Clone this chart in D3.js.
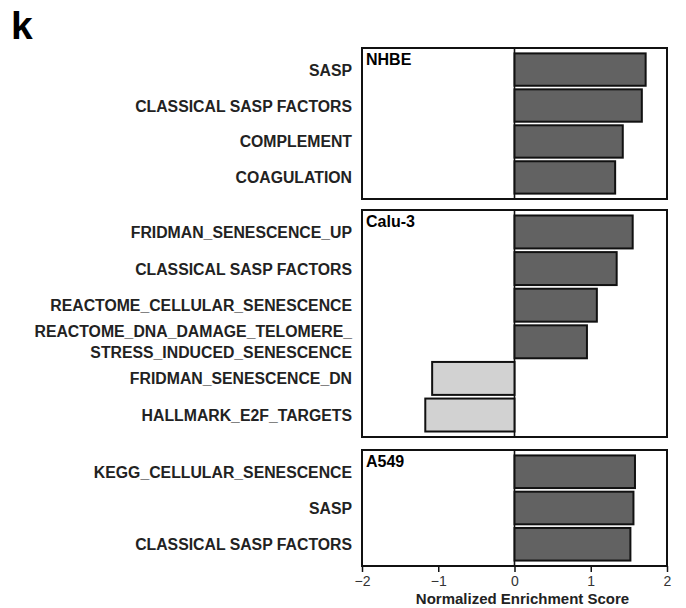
<!DOCTYPE html>
<meta charset="utf-8">
<style>
  body { margin: 0; background: #fff; }
  text { font-family: "Liberation Sans", Arial, sans-serif; }
</style>
<body>
<script src="https://cdn.jsdelivr.net/npm/d3@7"></script>
<script>

var width = 686,
    height = 608;

// cell lines, one panel each
var panels = ["NHBE", "Calu-3", "A549"];

// gene sets + NES per panel
var nhbeTerms = ["SASP", "CLASSICAL SASP FACTORS", "COMPLEMENT", "COAGULATION"];
var nhbeNES = [1.72, 1.67, 1.42, 1.32];

var caluTerms = ["FRIDMAN_SENESCENCE_UP", "CLASSICAL SASP FACTORS", "REACTOME_CELLULAR_SENESCENCE",
                 "REACTOME_DNA_DAMAGE_TELOMERE_\nSTRESS_INDUCED_SENESCENCE",
                 "FRIDMAN_SENESCENCE_DN", "HALLMARK_E2F_TARGETS"];
var caluNES = [1.55, 1.34, 1.08, 0.95, -1.08, -1.17];

var a549Terms = ["KEGG_CELLULAR_SENESCENCE", "SASP", "CLASSICAL SASP FACTORS"];
var a549NES = [1.58, 1.56, 1.52];

var xTicks = [-2, -1, 0, 1, 2];

var termsByPanel = [nhbeTerms, caluTerms, a549Terms],
    nesByPanel = [nhbeNES, caluNES, a549NES];

// panel boxes, top / bottom in px
var panelTop = [48, 210, 450],
    panelBottom = [199, 437, 566];

var left = 362, right = 667;

var x = d3.scaleLinear().domain([-2, 2]).range([left, right]);

var svg = d3.select("body").append("svg")
    .attr("width", width)
    .attr("height", height);

svg.append("text")
    .attr("x", 11)
    .attr("y", 39)
    .style("font-size", "39px")
    .style("font-weight", "bold")
    .text("k");

panels.forEach(function(name, p) {
  var terms = termsByPanel[p],
      data = terms.map(function(t, i) { return { term: t, nes: nesByPanel[p][i] }; });

  var y = d3.scaleBand()
      .domain(terms)
      .range([panelTop[p], panelBottom[p]])
      .paddingInner(0.1)
      .paddingOuter(0.15);

  var g = svg.append("g");

  g.append("rect")
      .attr("x", left)
      .attr("y", panelTop[p])
      .attr("width", right - left)
      .attr("height", panelBottom[p] - panelTop[p])
      .attr("fill", "#fff")
      .attr("stroke", "#111")
      .attr("stroke-width", 2);

  g.append("line")
      .attr("x1", x(0)).attr("x2", x(0))
      .attr("y1", panelTop[p]).attr("y2", panelBottom[p])
      .attr("stroke", "#111")
      .attr("stroke-width", 1.6);

  g.selectAll(".bar")
    .data(data)
    .enter().append("rect")
      .attr("class", "bar")
      .attr("x", function(d) { return x(Math.min(0, d.nes)); })
      .attr("y", function(d) { return y(d.term); })
      .attr("width", function(d) { return Math.abs(x(d.nes) - x(0)); })
      .attr("height", y.bandwidth())
      .attr("fill", function(d) { return d.nes > 0 ? "#626262" : "#d2d2d2"; })
      .attr("stroke", "#111")
      .attr("stroke-width", 2);

  g.append("text")
      .attr("x", left + 4)
      .attr("y", panelTop[p] + 17)
      .style("font-size", "16px")
      .style("font-weight", "bold")
      .text(name);

  // term labels: a bit taller than wide, like the original's condensed face
  var lab = g.selectAll(".lab")
    .data(data)
    .enter().append("text")
      .attr("class", "lab")
      .attr("text-anchor", "end")
      .attr("transform", function(d) {
        return "translate(352," + (y(d.term) + y.bandwidth() / 2) + ") scale(0.93,1)";
      })
      .style("font-size", "17px")
      .style("font-weight", "bold")
      .attr("fill", "#222");

  lab.each(function(d) {
    var lines = d.term.split("\n"),
        lh = 21;
    d3.select(this).selectAll("tspan")
      .data(lines)
      .enter().append("tspan")
        .attr("x", 0)
        .attr("y", function(l, i) { return 6 + (i - (lines.length - 1) / 2) * lh; })
        .text(function(l) { return l; });
  });
});

// x axis under the last panel
var axis = svg.append("g")
    .attr("transform", "translate(0," + panelBottom[2] + ")")
    .call(d3.axisBottom(x).tickValues(xTicks).tickFormat(d3.format("d")).tickSize(6).tickPadding(4));

axis.select(".domain").remove();
axis.selectAll(".tick line").attr("stroke", "#111").attr("stroke-width", 1.5);
axis.selectAll(".tick text")
    .style("font-family", "Liberation Sans, Arial, sans-serif")
    .style("font-size", "14px")
    .attr("fill", "#333");

svg.append("text")
    .attr("x", x(0) + 8)
    .attr("y", 604)
    .attr("text-anchor", "middle")
    .style("font-size", "15px")
    .style("font-weight", "bold")
    .attr("fill", "#222")
    .text("Normalized Enrichment Score");

</script>
